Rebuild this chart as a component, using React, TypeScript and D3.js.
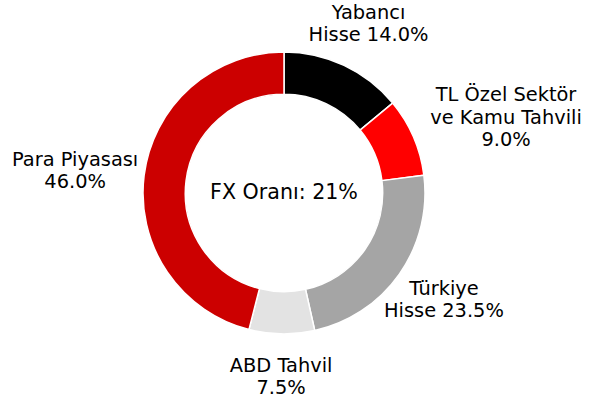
import React from "react";
import * as d3 from "d3";

const labels: string[][] = [
  ["Yabancı", "Hisse 14.0%"],
  ["TL Özel Sektör", "ve Kamu Tahvili", "9.0%"],
  ["Türkiye", "Hisse 23.5%"],
  ["ABD Tahvil", "7.5%"],
  ["Para Piyasası", "46.0%"],
];
const values: number[] = [14.0, 9.0, 23.5, 7.5, 46.0];
const colors: string[] = ["#000000", "#ff0000", "#a5a5a5", "#e3e3e3", "#cc0000"];
const centerText = "FX Oranı: 21%";

// layout-only label nudges (px) from the 1.3R anchor
const labelNudge: [number, number][] = [
  [6.5, -3.6],
  [53.8, -3.2],
  [10, 1],
  [0, 0],
  [-27, 0.6],
];

const W = 602;
const H = 403;
const cx = 284;
const cy = 193;
const R = 141;
const r = R * 0.7;
const fontSize = 19.4;
const lineH = 22.5;
const font = "'DejaVu Sans', sans-serif";

export default function App() {
  const pie = d3.pie<number>().sort(null).value((d) => d);
  const arcs = pie(values);
  const arc = d3.arc<d3.PieArcDatum<number>>().innerRadius(r).outerRadius(R);

  return (
    <svg width={W} height={H} style={{ position: "absolute", left: 0, top: 0 }}>
      <rect width={W} height={H} fill="#ffffff" />
      <g transform={`translate(${cx},${cy})`}>
        {arcs.map((a, i) => (
          <path key={i} d={arc(a) || ""} fill={colors[i]} stroke="#ffffff" strokeWidth={1.5} strokeLinejoin="round" />
        ))}
        {arcs.map((a, i) => {
          const mid = (a.startAngle + a.endAngle) / 2;
          const x = Math.sin(mid) * R * 1.3 + labelNudge[i][0];
          const y = -Math.cos(mid) * R * 1.3 + labelNudge[i][1];
          const lines = labels[i];
          const n = lines.length;
          return (
            <text key={"l" + i} fontFamily={font} fontSize={fontSize} textAnchor="middle" fill="#000">
              {lines.map((ln, j) => (
                <tspan key={j} x={x} y={y + (j - (n - 1) / 2) * lineH + 6.5}>
                  {ln}
                </tspan>
              ))}
            </text>
          );
        })}
        <text x={0} y={6.3} fontFamily={font} fontSize={20.6} textAnchor="middle" fill="#000">
          {centerText}
        </text>
      </g>
    </svg>
  );
}
